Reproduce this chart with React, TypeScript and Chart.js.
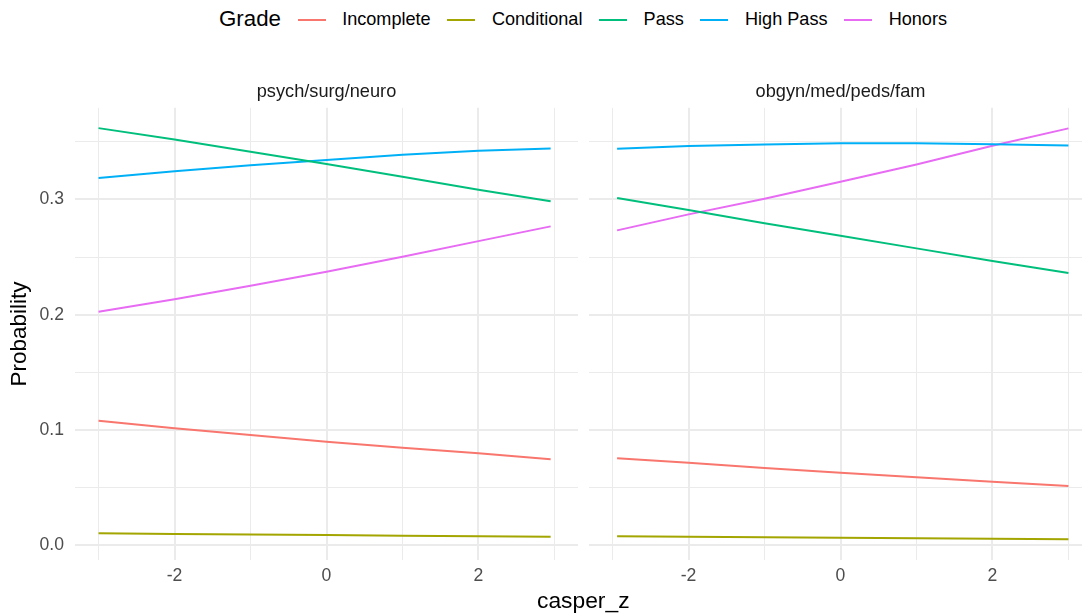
import React, { useEffect, useRef } from "react";
import { Chart, registerables } from "chart.js";

Chart.register(...registerables);

// ---------- data ----------
const GRADES = ["Incomplete", "Conditional", "Pass", "High Pass", "Honors"];
const COLORS = ["#F8766D", "#A3A500", "#00BF7D", "#00B0F6", "#E76BF3"];

const FACETS = ["psych/surg/neuro", "obgyn/med/peds/fam"];

const xPsych = [-3, -2, -1, 0, 1, 2, 2.95];
const psychIncomplete = [0.1081, 0.1015, 0.0957, 0.0899, 0.0847, 0.0798, 0.0746];
const psychConditional = [0.0104, 0.0099, 0.0094, 0.0089, 0.0084, 0.0079, 0.0075];
const psychPass = [0.3619, 0.3521, 0.3414, 0.3308, 0.3197, 0.3085, 0.2984];
const psychHighPass = [0.3186, 0.3246, 0.3296, 0.3342, 0.3388, 0.3423, 0.3443];
const psychHonors = [0.2026, 0.2134, 0.2252, 0.2373, 0.2503, 0.2639, 0.2767];

const xObgyn = [-2.94, -2, -1, 0, 1, 2, 3];
const obgynIncomplete = [0.0755, 0.0716, 0.067, 0.063, 0.059, 0.0552, 0.0514];
const obgynConditional = [0.0078, 0.0074, 0.007, 0.0066, 0.0061, 0.0057, 0.0052];
const obgynPass = [0.3012, 0.2908, 0.2793, 0.2685, 0.2576, 0.2466, 0.2362];
const obgynHighPass = [0.344, 0.3463, 0.3478, 0.3487, 0.3487, 0.348, 0.3469];
const obgynHonors = [0.2732, 0.2871, 0.3006, 0.3154, 0.3304, 0.3466, 0.3617];

const X_TICKS = [-3, -2, -1, 0, 1, 2, 3];
const X_MAJOR = [-2, 0, 2];
const Y_TICKS = [0, 0.05, 0.1, 0.15, 0.2, 0.25, 0.3, 0.35];
const Y_MAJOR = [0, 0.1, 0.2, 0.3];

const X_MIN = -3.31;
const X_MAX = 3.31;
const Y_MIN = -0.0127;
const Y_MAX = 0.3795;

const FONT = '"Liberation Sans", Arial, Helvetica, sans-serif';
const GRID = "#EBEBEB";

function isIn(list: number[], v: number) {
  return list.some((m) => Math.abs(m - v) < 1e-9);
}

type PanelProps = {
  title: string;
  xs: number[];
  series: number[][];
  showY: boolean;
  left: number;
  top: number;
  width: number;
  height: number;
  yAxisWidth: number;
};

function Panel(props: PanelProps) {
  const ref = useRef<HTMLCanvasElement | null>(null);
  useEffect(() => {
    if (!ref.current) return;
    const datasets = props.series.map((vals, i) => ({
      label: GRADES[i],
      data: vals.map((y, j) => ({ x: props.xs[j], y })),
      borderColor: COLORS[i],
      backgroundColor: COLORS[i],
      borderWidth: 2,
      pointRadius: 0,
      tension: 0,
      fill: false,
    }));
    const chart = new Chart(ref.current, {
      type: "line",
      data: { datasets },
      options: {
        animation: false,
        responsive: false,
        maintainAspectRatio: false,
        layout: { padding: 0 },
        plugins: {
          legend: { display: false },
          tooltip: { enabled: false },
          title: {
            display: true,
            text: props.title,
            fullSize: false,
            color: "#1A1A1A",
            font: { family: FONT, size: 18.2, weight: "normal" },
            padding: { top: 4, bottom: 5 },
          },
        },
        scales: {
          x: {
            type: "linear",
            min: X_MIN,
            max: X_MAX,
            afterBuildTicks: (scale: any) => {
              scale.ticks = X_TICKS.map((v) => ({ value: v }));
            },
            afterFit: (scale: any) => {
              scale.height = 40;
            },
            ticks: {
              autoSkip: false,
              maxRotation: 0,
              minRotation: 0,
              padding: 6,
              color: "#4D4D4D",
              font: { family: FONT, size: 17.6 },
              callback: (v: any) => (isIn(X_MAJOR, Number(v)) ? String(v) : ""),
            },
            grid: {
              color: GRID,
              drawTicks: false,
              lineWidth: (ctx: any) => (ctx.tick && isIn(X_MAJOR, ctx.tick.value) ? 2 : 1),
            },
            border: { display: false },
          },
          y: {
            type: "linear",
            min: Y_MIN,
            max: Y_MAX,
            afterBuildTicks: (scale: any) => {
              scale.ticks = Y_TICKS.map((v) => ({ value: v }));
            },
            afterFit: (scale: any) => {
              scale.width = props.yAxisWidth;
            },
            title: {
              display: props.showY,
              text: "Probability",
              color: "#000000",
              font: { family: FONT, size: 22.5 },
              padding: { top: 6, bottom: 0 },
            },
            ticks: {
              display: props.showY,
              autoSkip: false,
              padding: 11,
              color: "#4D4D4D",
              font: { family: FONT, size: 17.6 },
              callback: (v: any) => (isIn(Y_MAJOR, Number(v)) ? Number(v).toFixed(1) : ""),
            },
            grid: {
              color: GRID,
              drawTicks: false,
              lineWidth: (ctx: any) => (ctx.tick && isIn(Y_MAJOR, ctx.tick.value) ? 2 : 1),
            },
            border: { display: false },
          },
        },
      },
    });
    return () => chart.destroy();
  }, []);
  return (
    <canvas
      ref={ref}
      width={props.width}
      height={props.height}
      style={{
        position: "absolute",
        left: props.left,
        top: props.top,
        width: props.width,
        height: props.height,
      }}
    />
  );
}

function Legend() {
  return (
    <div
      style={{
        position: "absolute",
        left: 219,
        top: 0,
        height: 39,
        display: "flex",
        alignItems: "center",
        fontFamily: FONT,
        whiteSpace: "nowrap",
      }}
    >
      <span style={{ fontSize: 22.3, lineHeight: 1, color: "#000" }}>Grade</span>
      {GRADES.map((g, i) => (
        <React.Fragment key={g}>
          <span
            style={{
              display: "inline-block",
              marginLeft: 16.6,
              width: 28,
              height: 2,
              background: COLORS[i],
            }}
          />
          <span style={{ marginLeft: 16.6, fontSize: 18.1, lineHeight: 1, color: "#000" }}>{g}</span>
        </React.Fragment>
      ))}
    </div>
  );
}

export default function App() {
  return (
    <div
      style={{
        position: "absolute",
        left: 0,
        top: 0,
        width: 1082,
        height: 616,
        overflow: "hidden",
        background: "#FFFFFF",
        fontFamily: FONT,
      }}
    >
      <Legend />
      <Panel
        title={FACETS[0]}
        xs={xPsych}
        series={[psychIncomplete, psychConditional, psychPass, psychHighPass, psychHonors]}
        showY={true}
        left={0}
        top={77}
        width={578}
        height={523}
        yAxisWidth={75}
      />
      <Panel
        title={FACETS[1]}
        xs={xObgyn}
        series={[obgynIncomplete, obgynConditional, obgynPass, obgynHighPass, obgynHonors]}
        showY={false}
        left={589}
        top={77}
        width={503}
        height={523}
        yAxisWidth={0}
      />
      <div
        style={{
          position: "absolute",
          left: 583.3,
          top: 589,
          transform: "translateX(-50%)",
          fontSize: 22.8,
          lineHeight: 1,
          color: "#000",
          whiteSpace: "nowrap",
        }}
      >
        casper_z
      </div>
    </div>
  );
}
